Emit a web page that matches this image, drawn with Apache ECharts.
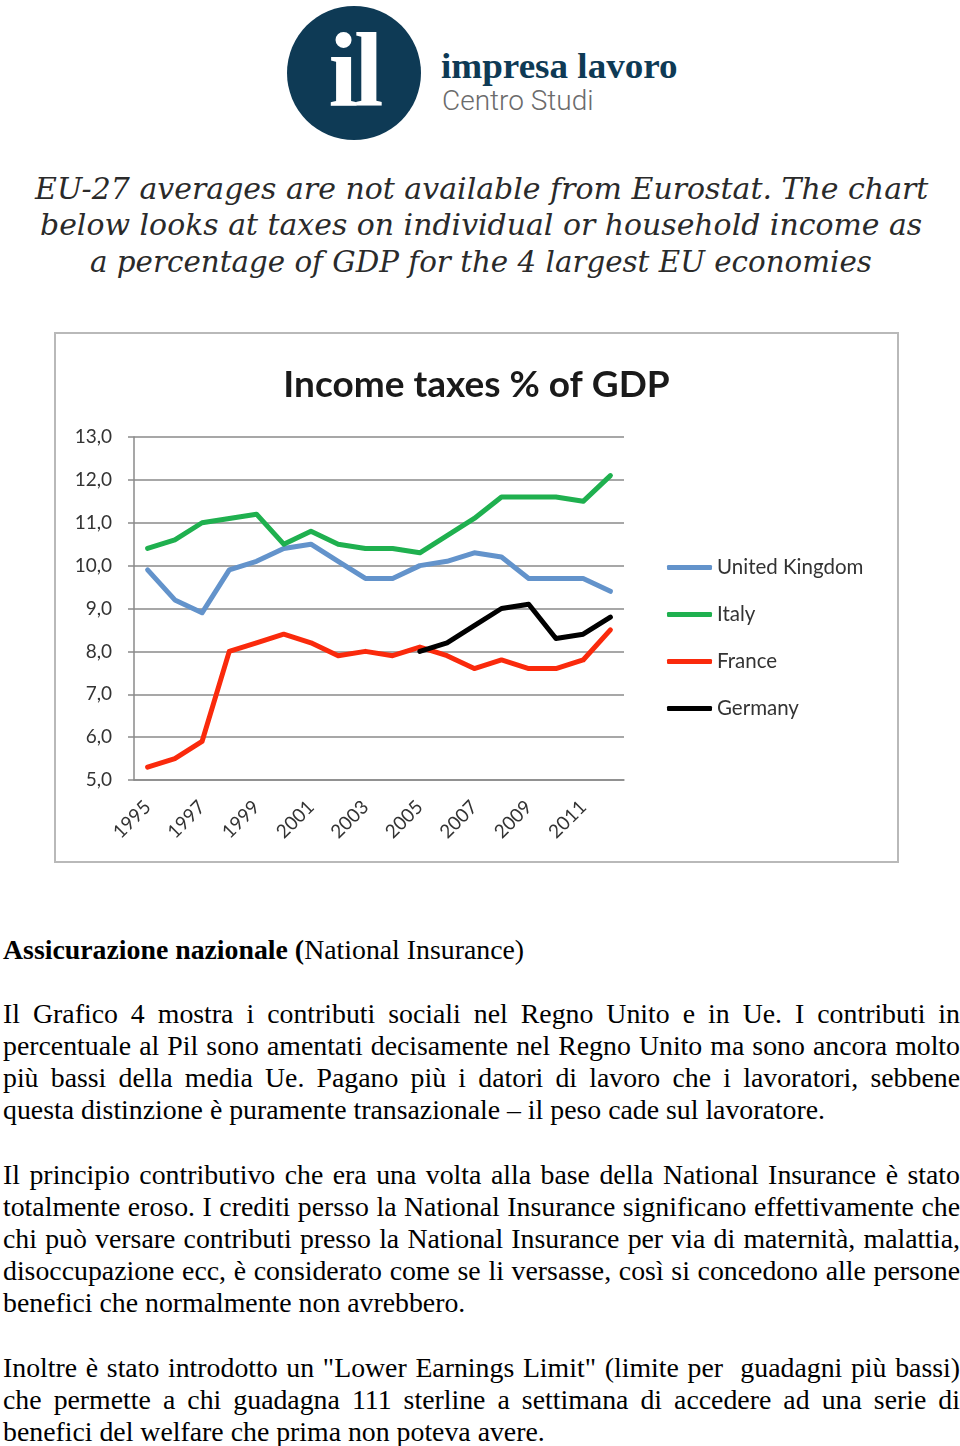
<!DOCTYPE html>
<html><head><meta charset="utf-8">
<script src="https://cdn.jsdelivr.net/npm/echarts@6/dist/echarts.min.js"></script>
<style>
html,body{margin:0;padding:0;background:#fff;}
body{width:960px;height:1446px;position:relative;overflow:hidden;}
.abs{position:absolute;white-space:nowrap;}
#logoCircle{left:287px;top:6px;width:134px;height:134px;border-radius:50%;background:#0e3a55;}
#logoIl{left:287px;top:4px;width:134px;height:134px;text-align:center;color:#fff;font-family:"Liberation Serif",serif;font-weight:bold;font-size:106px;line-height:134px;letter-spacing:-4px;}
#brand1{left:441px;top:41px;font-family:"Liberation Serif",serif;font-weight:bold;font-size:36px;color:#0e3a55;line-height:50px;transform-origin:0 50%;}
#brand2{left:442px;top:84px;font-family:"Roboto","Liberation Sans",sans-serif;font-weight:300;font-size:28px;color:#6b6b6b;line-height:34px;}
.hl{font-family:"DejaVu Serif",serif;font-style:italic;font-size:29px;color:#2a2a2a;line-height:36px;transform-origin:0 50%;}
#box{position:absolute;left:54px;top:332px;width:845px;height:531px;border:2px solid #b9b9b9;box-sizing:border-box;}
#chart{width:841px;height:527px;}
.tx{position:absolute;left:3px;width:957px;font-family:"Liberation Serif","Times New Roman",serif;font-size:27.8px;color:#000;line-height:32px;height:32px;white-space:nowrap;}
.j{text-align:justify;text-align-last:justify;word-spacing:-3px;}
</style></head>
<body>
<div id="logoCircle" class="abs"></div>
<div id="logoIl" class="abs">il</div>
<div id="brand1" class="abs" data-w="237">impresa lavoro</div>
<div id="brand2" class="abs">Centro Studi</div>

<div class="abs hl" data-w="893" style="left:35px;top:171px;">EU-27 averages are not available from Eurostat. The chart</div>
<div class="abs hl" data-w="882" style="left:40px;top:207px;">below looks at taxes on individual or household income as</div>
<div class="abs hl" data-w="782" style="left:90px;top:244px;">a percentage of GDP for the 4 largest EU economies</div>

<div id="box"><div id="chart"></div></div>

<div class="tx" style="top:934px;"><b>Assicurazione nazionale (</b>National Insurance)</div>

<div class="tx j" style="top:998px;">Il Grafico 4 mostra i contributi sociali nel Regno Unito e in Ue. I contributi in</div>
<div class="tx j" style="top:1030px;">percentuale al Pil sono amentati decisamente nel Regno Unito ma sono ancora molto</div>
<div class="tx j" style="top:1062px;">più bassi della media Ue. Pagano più i datori di lavoro che i lavoratori, sebbene</div>
<div class="tx" style="top:1094px;">questa distinzione è puramente transazionale – il peso cade sul lavoratore.</div>

<div class="tx j" style="top:1159px;">Il principio contributivo che era una volta alla base della National Insurance è stato</div>
<div class="tx j" style="top:1191px;">totalmente eroso. I crediti persso la National Insurance significano effettivamente che</div>
<div class="tx j" style="top:1223px;">chi può versare contributi presso la National Insurance per via di maternità, malattia,</div>
<div class="tx j" style="top:1255px;">disoccupazione ecc, è considerato come se li versasse, così si concedono alle persone</div>
<div class="tx" style="top:1287px;">benefici che normalmente non avrebbero.</div>

<div class="tx j" style="top:1352px;">Inoltre è stato introdotto un "Lower Earnings Limit" (limite per &nbsp;guadagni più bassi)</div>
<div class="tx j" style="top:1384px;">che permette a chi guadagna 111 sterline a settimana di accedere ad una serie di</div>
<div class="tx" style="top:1416px;">benefici del welfare che prima non poteva avere.</div>

<script>
// fit header lines to reference widths
document.querySelectorAll('[data-w]').forEach(function(el){
  var w = el.offsetWidth, target = +el.getAttribute('data-w');
  el.style.transform = 'scaleX(' + (target / w) + ')';
});

var years = ['1995','1996','1997','1998','1999','2000','2001','2002','2003','2004','2005','2006','2007','2008','2009','2010','2011','2012'];
var ukValues = [9.9, 9.2, 8.9, 9.9, 10.1, 10.4, 10.5, 10.1, 9.7, 9.7, 10.0, 10.1, 10.3, 10.2, 9.7, 9.7, 9.7, 9.4];
var italyValues = [10.4, 10.6, 11.0, 11.1, 11.2, 10.5, 10.8, 10.5, 10.4, 10.4, 10.3, 10.7, 11.1, 11.6, 11.6, 11.6, 11.5, 12.1];
var franceValues = [5.3, 5.5, 5.9, 8.0, 8.2, 8.4, 8.2, 7.9, 8.0, 7.9, 8.1, 7.9, 7.6, 7.8, 7.6, 7.6, 7.8, 8.5];
var germanyValues = [null, null, null, null, null, null, null, null, null, null, 8.0, 8.2, 8.6, 9.0, 9.1, 8.3, 8.4, 8.8];
var seriesNames = ['United Kingdom', 'Italy', 'France', 'Germany'];
var seriesColors = ['#6393cb', '#1fb04f', '#fa2a0c', '#000000'];
var seriesData = [ukValues, italyValues, franceValues, germanyValues];

var chart = echarts.init(document.getElementById('chart'));
var font = 'Lato, "Open Sans", sans-serif';
chart.setOption({
  animation: false,
  title: {
    text: 'Income taxes % of GDP', left: 'center', top: 28,
    textStyle: {fontFamily: font, fontWeight: 'bold', fontSize: 37, color: '#1a1a1a'}
  },
  grid: {left: 78, top: 103, width: 490, height: 343},
  legend: {
    orient: 'vertical', left: 611, top: 223, itemGap: 26, padding: 0,
    icon: 'roundRect', itemWidth: 45, itemHeight: 5,
    textStyle: {fontFamily: font, fontSize: 20.5, color: '#333', lineHeight: 20},
    data: seriesNames
  },
  xAxis: {
    type: 'category', data: years, boundaryGap: true,
    axisLine: {lineStyle: {color: '#8a8a8a', width: 1.5}},
    axisTick: {interval: 1, length: 6, lineStyle: {color: '#8a8a8a', width: 1.5}},
    axisLabel: {interval: 1, rotate: 45, margin: 24, fontFamily: font, fontSize: 19, color: '#333'}
  },
  yAxis: {
    type: 'value', min: 5, max: 13, interval: 1,
    axisLine: {show: true, lineStyle: {color: '#8a8a8a', width: 1.5}},
    axisTick: {show: true, length: 6, lineStyle: {color: '#8a8a8a', width: 1.5}},
    splitLine: {lineStyle: {color: '#8a8a8a', width: 1.5}},
    axisLabel: {fontFamily: font, fontSize: 19, color: '#333', margin: 22,
      formatter: function(v){ return v.toFixed(1).replace('.', ','); }}
  },
  series: seriesNames.map(function(n, i){
    return {
      name: n, type: 'line', data: seriesData[i], symbol: 'none',
      color: seriesColors[i],
      lineStyle: {width: 5, color: seriesColors[i], cap: 'round', join: 'round'}
    };
  })
});
</script>
</body></html>
